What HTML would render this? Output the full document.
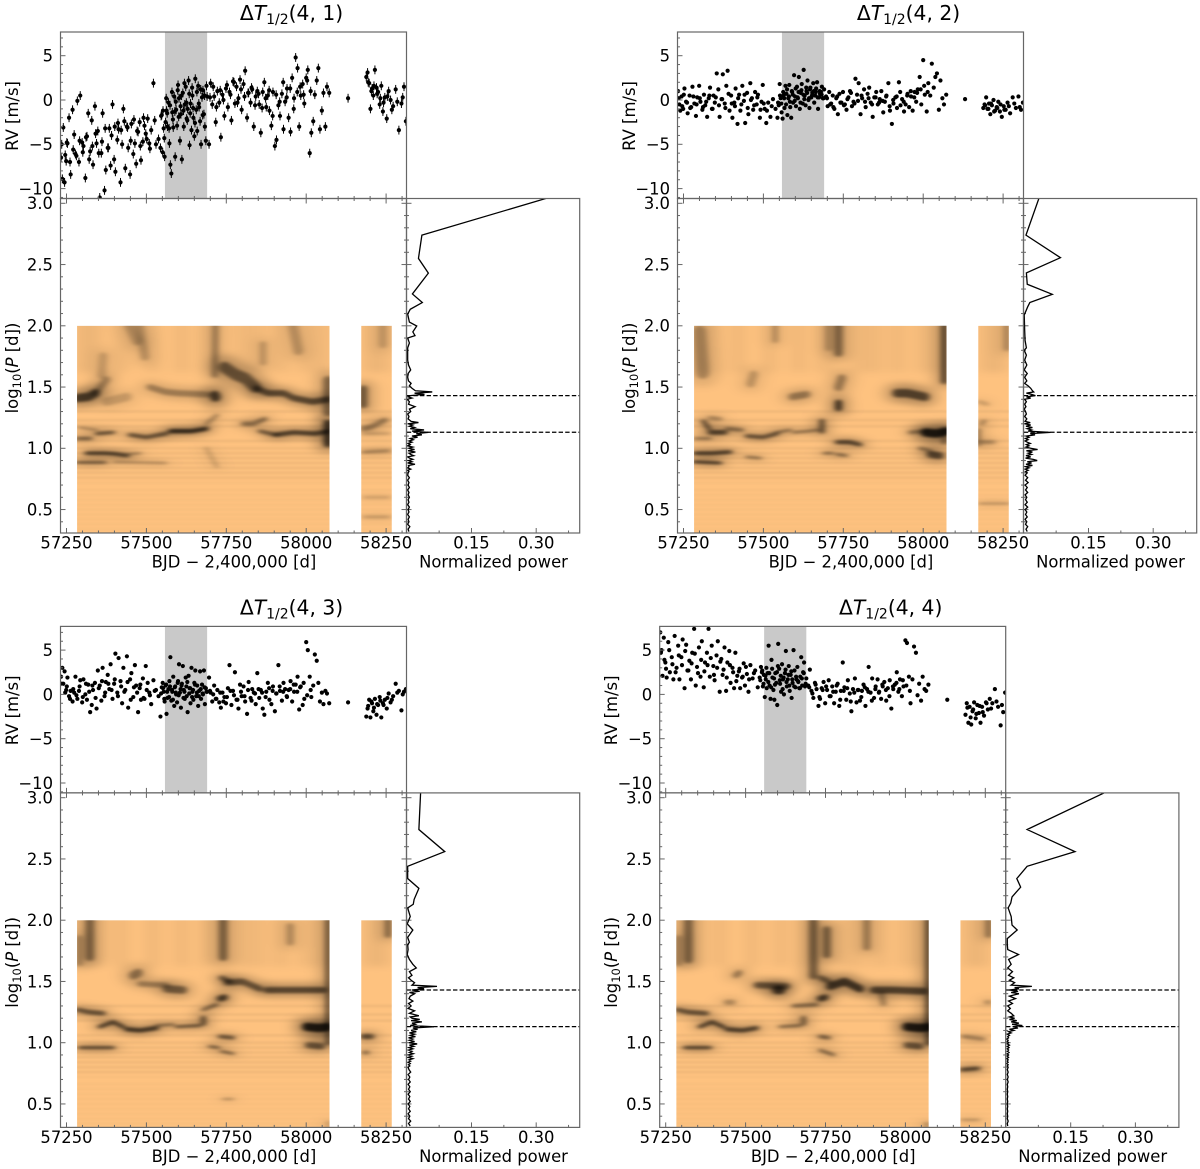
<!DOCTYPE html>
<html lang="en">
<head>
<meta charset="utf-8">
<title>Delta T 1/2 periodogram panels</title>
<style>
html,body{margin:0;padding:0;background:#fff;}
svg{display:block;font-family:"DejaVu Sans","Liberation Sans",sans-serif;fill:#000;}
text{fill:#000;}
.lab{font-size:16.4px;}
.tit{font-size:20.3px;}
</style>
</head>
<body>
<svg id="figure" xmlns="http://www.w3.org/2000/svg" width="1200" height="1169" viewBox="0 0 1200 1169">
<defs>
<filter id="heat-blur" x="-5%" y="-5%" width="110%" height="110%"><feGaussianBlur stdDeviation="3 1.3"/></filter>
<filter id="halo-blur" x="-5%" y="-5%" width="110%" height="110%"><feGaussianBlur stdDeviation="8 3.5"/></filter>
<filter id="band-blur" x="-5%" y="-5%" width="110%" height="110%"><feGaussianBlur stdDeviation="3 1"/></filter>
</defs>
<rect x="0" y="0" width="1200" height="1169" fill="#fff"/>

<g id="panel-41" transform="translate(0,0)">
<g class="marks"></g>
<text class="tit" x="291.5" y="20" text-anchor="middle">Δ<tspan font-style="italic">T</tspan><tspan font-size="14" dy="4">1/2</tspan><tspan dy="-4">(4, 1)</tspan></text>
<text class="lab" transform="translate(18,116) rotate(-90)" text-anchor="middle">RV [m/s]</text>
<text class="lab" transform="translate(18,368) rotate(-90)" text-anchor="middle">log<tspan font-size="11.5" dy="3">10</tspan><tspan dy="-3">(</tspan><tspan font-style="italic">P</tspan> [d])</text>
<text class="lab" x="234" y="567.5" text-anchor="middle">BJD − 2,400,000 [d]</text>
<text class="lab" x="493.5" y="567.5" text-anchor="middle">Normalized power</text>
</g>

<g id="panel-42" transform="translate(617,0)">
<g class="marks"></g>
<text class="tit" x="291.5" y="20" text-anchor="middle">Δ<tspan font-style="italic">T</tspan><tspan font-size="14" dy="4">1/2</tspan><tspan dy="-4">(4, 2)</tspan></text>
<text class="lab" transform="translate(18,116) rotate(-90)" text-anchor="middle">RV [m/s]</text>
<text class="lab" transform="translate(18,368) rotate(-90)" text-anchor="middle">log<tspan font-size="11.5" dy="3">10</tspan><tspan dy="-3">(</tspan><tspan font-style="italic">P</tspan> [d])</text>
<text class="lab" x="234" y="567.5" text-anchor="middle">BJD − 2,400,000 [d]</text>
<text class="lab" x="493.5" y="567.5" text-anchor="middle">Normalized power</text>
</g>

<g id="panel-43" transform="translate(0,594.4)">
<g class="marks"></g>
<text class="tit" x="291.5" y="20" text-anchor="middle">Δ<tspan font-style="italic">T</tspan><tspan font-size="14" dy="4">1/2</tspan><tspan dy="-4">(4, 3)</tspan></text>
<text class="lab" transform="translate(18,116) rotate(-90)" text-anchor="middle">RV [m/s]</text>
<text class="lab" transform="translate(18,368) rotate(-90)" text-anchor="middle">log<tspan font-size="11.5" dy="3">10</tspan><tspan dy="-3">(</tspan><tspan font-style="italic">P</tspan> [d])</text>
<text class="lab" x="234" y="567.5" text-anchor="middle">BJD − 2,400,000 [d]</text>
<text class="lab" x="493.5" y="567.5" text-anchor="middle">Normalized power</text>
</g>

<g id="panel-44" transform="translate(599.2,594.4)">
<g class="marks"></g>
<text class="tit" x="291.5" y="20" text-anchor="middle">Δ<tspan font-style="italic">T</tspan><tspan font-size="14" dy="4">1/2</tspan><tspan dy="-4">(4, 4)</tspan></text>
<text class="lab" transform="translate(18,116) rotate(-90)" text-anchor="middle">RV [m/s]</text>
<text class="lab" transform="translate(18,368) rotate(-90)" text-anchor="middle">log<tspan font-size="11.5" dy="3">10</tspan><tspan dy="-3">(</tspan><tspan font-style="italic">P</tspan> [d])</text>
<text class="lab" x="234" y="567.5" text-anchor="middle">BJD − 2,400,000 [d]</text>
<text class="lab" x="493.5" y="567.5" text-anchor="middle">Normalized power</text>
</g>
</svg>

<script>
// ---- axis tick values and labels ----
const timeTicks = [57250, 57500, 57750, 58000, 58250];
const rvTicks = [5, 0, -5, -10];
const rvTickLabels = ["5", "0", "−5", "−10"];
const periodTicks = [3.0, 2.5, 2.0, 1.5, 1.0, 0.5];
const periodTickLabels = ["3.0", "2.5", "2.0", "1.5", "1.0", "0.5"];
const powerTicks = [0.15, 0.30];
const powerTickLabels = ["0.15", "0.30"];
const activityWindow = [57558, 57690];
const heatBlocks = [[57283, 58073], [58172, 58268]];
const markedPeriods = [1.43, 1.131];

// ---- observation times (BJD - 2,400,000) ----
const rvTimes = [
57233,57237,57240,57244,57249,57253,57258,57263,57269,57274,
57278,57284,57289,57293,57299,57303,57309,57314,57318,57324,
57329,57333,57339,57344,57348,57354,57359,57363,57369,57373,
57379,57384,57388,57394,57399,57403,57409,57413,57419,57424,
57428,57434,57439,57443,57449,57453,57459,57464,57468,57474,
57479,57483,57489,57494,57498,57504,57509,57515,57522,57530,
57538,57544,57548,57551,57554,57557,57560,57563,57566,57569,
57572,57575,57578,57581,57584,57587,57590,57593,57596,57599,
57602,57605,57608,57611,57614,57617,57620,57623,57626,57629,
57632,57635,57638,57641,57644,57647,57650,57653,57656,57659,
57662,57665,57668,57671,57674,57677,57680,57683,57686,57690,
57696,57701,57706,57712,57717,57722,57728,57733,57738,57744,
57749,57755,57760,57766,57771,57777,57782,57788,57793,57798,
57804,57809,57815,57820,57826,57831,57836,57842,57847,57853,
57858,57864,57869,57875,57880,57885,57891,57896,57902,57907,
57913,57918,57924,57929,57934,57940,57945,57951,57956,57962,
57967,57973,57978,57983,57989,57994,58000,58005,58011,58016,
58022,58027,58033,58038,58043,58049,58054,58060,58065,58072,
58131,58188,58192,58197,58201,58206,58210,58215,58220,58225,
58230,58235,58240,58246,58252,58258,58264,58272,58280,58290,
58298,58306,58312,
57235,57246,57251,57261,57271,57281,57291,57301,57311,57321,
57331,57341,57351,57361,57371,57381,57391,57401,57411,57421,
57431,57441,57451,57461,57471,57481,57491,57501,57511,57526,
57546,57552,57556,57562,57565,57571,57574,57580,57583,57589,
57592,57598,57601,57607,57610,57616,57619,57625,57628,57634,
57637,57643,57646,57652,57658,
57664,57670,57676,57682,57688,57699,57709,57719,57731,57741,
57752,57763,57774,57785,57796,57807,57818,57829,57840,57851,
57862,57873,57884,57895,57906,57917,57928,57939,57950,57961,
57972,57981,57992,58003,58014,
58194,58204,58212,58222,58232,58242,58254,58268,58285,58302];

// ---- radial velocities, m/s ----
const rv41 = [
-6.5,-8.9,-3.1,-9.3,-6.9,-4.9,-2.0,-8.4,-1.1,-3.9,
-6.1,-0.1,-7.0,0.5,-4.8,-5.2,-8.8,-4.1,-1.5,-5.8,
-2.3,-7.3,-0.7,-4.9,-3.5,-11.0,-6.0,-1.5,-10.2,-7.9,
-5.4,-3.2,-7.4,-0.5,-6.7,-8.1,-4.5,-3.3,-9.3,-5.0,
-1.0,-7.7,-3.0,-5.4,-8.4,-2.7,-6.1,-4.9,-7.2,-3.6,
-2.5,-6.8,-4.7,-2.9,-3.8,-2.1,-4.9,-3.4,1.9,-5.0,
-4.4,-5.4,-1.7,-5.9,-3.2,-6.4,-2.5,-1.2,-3.0,-0.3,
-4.9,-7.3,-8.3,-1.4,-3.1,0.4,-6.4,-1.1,-2.9,1.7,
0.2,-4.6,-1.6,-6.7,0.8,-3.0,-0.5,1.5,-2.1,-1.0,
2.2,-5.1,-0.4,-3.4,0.5,-2.0,-4.1,2.4,-1.1,-3.5,
1.6,-0.8,-2.4,-5.0,0.3,1.1,-1.6,-3.0,-4.6,0.4,
-5.0,1.9,-0.5,0.4,-2.5,1.0,-0.3,-4.2,0.6,-1.8,
1.3,-0.8,0.9,-2.3,2.1,-0.4,1.5,0.2,2.3,-1.1,
1.8,3.3,-2.0,0.8,-0.3,1.2,-3.0,0.4,1.0,-0.5,
-3.7,0.9,2.0,-0.8,0.5,-1.2,-2.9,0.9,-5.2,-4.5,
-0.6,-1.8,0.7,-3.3,-0.2,1.3,-2.0,-3.6,2.5,0.2,
4.8,3.6,-3.0,0.5,1.8,-0.4,2.5,3.4,-6.0,-3.7,
-2.4,0.6,2.2,3.6,-3.3,-1.2,0.8,-3.0,1.5,0.8,
0.2,2.6,3.1,1.9,-1.0,1.3,0.5,3.4,1.4,0.9,
-0.5,1.6,-1.3,0.3,-2.1,1.0,0.0,-0.7,1.2,-3.4,
-0.4,1.5,-2.4,
-5.0,-6.2,-4.8,-7.0,-5.6,-6.3,-4.6,-5.9,-4.2,-6.7,
-5.2,-3.8,-6.0,-4.7,-3.2,-5.4,-4.0,-3.0,-2.6,-3.4,
-2.4,-3.1,-4.6,-2.2,-3.5,-5.2,-2.0,-4.4,-5.5,-2.3,
-1.8,-1.2,-4.3,0.2,-1.5,-3.2,-0.6,0.9,-2.2,-1.3,
-0.2,1.1,-1.9,-0.7,0.5,-1.2,1.9,-0.3,-2.3,0.7,
-1.5,1.4,-0.9,-2.6,0.9,
-0.4,1.2,-1.7,0.5,1.6,0.3,1.5,-0.8,1.1,0.0,
1.7,0.6,2.0,-0.3,1.2,0.4,0.8,1.4,-0.6,0.7,
-0.9,0.2,1.1,-1.8,0.6,-0.2,2.0,0.3,1.3,-1.0,
0.9,1.5,0.6,2.2,1.0,
2.0,1.0,1.6,0.7,0.2,-0.3,0.4,-1.1,-0.2,0.3];
const rv42 = [
1.0,-0.5,-1.2,0.4,-1.0,1.3,-0.2,-1.5,0.5,-0.8,
1.5,-0.4,-1.8,0.3,1.6,-0.2,-1.1,0.6,-0.6,-1.9,
0.2,1.4,-1.0,0.5,-0.3,3.0,1.2,-1.9,0.1,2.9,
-0.4,1.6,3.3,-1.2,0.5,-2.0,-0.3,1.3,-2.7,0.6,
-1.2,1.6,-0.1,-2.6,0.8,-1.6,1.9,0.2,-1.1,0.9,
-0.5,0.6,-2.0,-0.2,1.7,-1.0,-2.6,-0.3,-1.9,0.1,
-1.0,-2.0,-0.6,1.8,0.2,-1.4,-2.1,0.5,-0.9,1.6,
0.7,-1.7,0.2,1.7,-0.8,-2.0,0.9,-0.3,2.8,0.4,
-0.7,1.5,0.2,2.6,-1.0,0.8,1.8,-0.4,3.4,0.5,
-0.6,1.0,2.2,0.0,-0.9,1.4,0.3,0.8,1.9,-0.3,
0.5,1.3,2.0,-1.0,0.3,0.7,0.9,1.5,0.2,1.2,
0.4,-0.7,0.9,-0.4,0.5,-1.0,0.2,-1.6,0.7,-0.3,
0.9,-0.5,-1.1,0.3,1.0,-0.7,-0.2,2.4,0.6,1.9,
-1.6,0.2,1.2,-0.8,0.7,1.4,-0.3,-1.9,0.3,0.9,
-0.5,0.1,1.0,-1.4,-0.2,0.5,1.9,-1.2,-2.7,-0.4,
0.3,-0.9,2.0,-0.6,0.1,-1.3,-0.5,0.7,-0.8,0.4,
-1.2,0.9,-0.2,1.2,2.6,-0.5,4.5,0.6,-1.3,1.9,
0.5,4.1,1.4,2.6,3.0,-1.1,2.2,0.2,-0.5,0.6,
0.1,-0.9,-0.5,0.3,-1.0,-0.4,-1.6,-0.6,0.0,-1.2,
-0.8,-0.2,-1.3,-1.9,-0.7,-1.1,-0.3,-1.5,0.3,-0.9,
0.4,-1.1,-0.3,
0.2,-0.7,0.6,-0.3,-0.9,0.4,-0.5,0.2,-0.8,-0.2,
0.5,-1.0,0.3,-0.6,0.1,-0.9,0.7,-0.4,-0.7,0.2,
-0.5,0.6,-0.9,0.0,-0.6,0.3,-1.1,-0.4,-1.2,-0.7,
-0.3,0.5,-0.4,0.9,0.2,-0.5,1.2,0.4,-0.2,1.0,
0.6,-0.1,1.3,0.3,0.9,-0.3,1.1,0.6,0.1,1.4,
0.8,0.2,1.2,0.5,1.0,
0.9,0.3,1.0,0.6,0.2,0.2,-0.5,-0.8,0.4,-0.3,
-0.6,0.1,0.8,-0.4,-0.1,0.5,-0.2,0.2,-0.5,0.3,
-0.3,-0.1,0.4,-0.7,0.0,0.4,0.9,-0.2,0.5,1.0,
0.3,0.8,1.2,1.6,0.9,
-0.6,-1.0,-0.4,-1.3,-0.9,-0.5,-1.1,-0.7,-0.4,-0.8];
const rv43 = [
2.0,3.0,1.2,2.6,0.5,1.9,-0.2,0.4,-0.8,0.2,
2.0,-0.5,0.4,1.6,-0.9,1.7,0.0,-0.6,1.1,-2.0,
-1.2,0.5,1.3,-1.6,2.7,1.0,-0.7,3.0,-0.2,1.4,
2.2,0.6,3.4,-0.5,1.2,4.6,0.2,4.1,1.5,-1.0,
3.0,0.5,4.3,-1.5,1.7,2.4,-0.3,3.3,1.0,-2.0,
0.7,-0.6,1.8,-0.5,3.2,1.3,0.2,-1.1,1.6,0.5,
-0.2,-2.5,0.8,1.3,0.3,-0.8,1.0,-2.2,-0.4,0.6,
1.5,4.2,-0.7,0.3,2.0,-1.3,0.9,0.0,-0.9,1.5,
3.4,0.2,-1.5,1.2,3.2,0.5,-0.5,1.9,-0.2,-2.0,
2.1,0.7,-1.0,3.0,0.3,-0.6,1.3,2.7,-0.2,1.0,
-1.3,0.4,2.6,-0.5,1.1,0.0,2.7,-1.1,0.7,0.3,
1.9,0.2,-0.8,1.0,-0.5,0.5,-0.9,-1.5,0.2,-0.3,
-1.0,0.7,3.3,-1.2,0.4,2.5,-0.6,-1.6,1.1,-0.2,
0.9,-0.8,-2.2,1.4,-0.4,0.6,0.2,-1.1,2.4,-0.4,
0.5,-1.6,-2.3,0.3,1.3,-0.6,-1.1,0.9,-1.9,0.1,
3.3,0.4,-0.7,1.3,0.6,-0.3,0.5,1.5,-0.8,0.3,
1.1,2.0,-1.7,0.9,-1.2,-0.5,5.9,5.0,2.0,-0.3,
1.0,4.5,3.8,1.3,-0.8,0.2,-1.1,0.4,0.1,-1.0,
-0.9,-2.5,-1.6,-0.6,-2.6,-1.0,-1.9,-0.5,-2.3,-1.2,
-0.3,-2.6,-1.0,-0.6,-1.6,0.1,-0.9,-0.2,1.2,0.4,
-1.8,0.3,0.6,
1.2,0.2,0.9,-0.5,0.6,-0.1,0.9,-0.3,1.2,0.3,
1.0,-0.4,0.7,1.5,0.2,1.2,0.5,1.7,-0.2,0.9,
0.3,1.4,-0.6,0.8,0.2,1.1,-0.4,0.5,-0.1,0.4,
0.1,0.7,-0.5,1.1,0.3,-0.3,0.9,0.5,-0.6,0.8,
0.2,1.3,-0.1,0.6,1.0,-0.4,0.3,0.9,1.4,0.1,
0.7,-0.3,0.5,1.1,0.2,
-0.2,0.6,0.1,0.8,0.3,0.4,0.0,-0.5,0.2,-0.8,
-0.3,0.4,-0.1,-0.6,0.3,-0.2,0.5,-0.7,0.1,0.6,
0.2,-0.3,0.7,0.4,0.1,0.9,0.3,-0.2,0.6,1.1,
0.3,0.8,1.3,-0.1,0.5,
-1.3,-0.8,-1.5,-1.1,-0.7,-1.2,-0.4,-0.6,0.2,0.0];
const rv44 = [
7.0,5.0,2.1,6.4,3.6,1.9,5.9,2.5,4.2,1.7,
6.6,3.0,5.5,1.7,4.2,6.2,0.7,5.6,2.7,3.8,
1.7,4.7,7.4,1.0,3.1,5.3,2.0,6.0,0.8,3.6,
4.7,7.4,2.0,5.5,3.2,1.6,4.4,6.0,0.3,4.0,
2.2,5.3,0.4,3.6,4.9,1.3,3.0,0.7,4.7,2.1,
2.6,0.7,1.9,3.5,1.0,2.3,0.3,3.3,1.8,2.7,
0.8,1.9,3.1,2.5,0.9,2.2,-0.3,1.7,0.7,2.4,
5.5,1.0,-0.5,3.9,1.9,0.5,-0.6,2.4,1.3,-1.2,
5.7,2.9,1.2,0.3,3.4,1.7,0.0,2.4,4.9,0.9,
1.7,3.2,0.4,2.2,-0.4,1.3,5.0,2.7,0.8,1.7,
3.1,1.4,0.7,2.0,4.2,1.0,2.5,3.6,0.9,1.8,
1.0,2.8,0.4,-0.4,1.3,0.6,-1.3,-0.5,0.7,1.4,
-1.0,0.5,1.6,-0.2,0.9,-1.0,0.3,1.2,-1.3,0.4,
3.6,0.8,-0.6,1.6,0.1,-1.9,0.6,1.8,-0.9,0.5,
-0.7,0.4,1.1,-1.3,0.6,3.1,0.2,1.8,-0.4,0.9,
1.7,0.3,-0.5,0.9,1.4,-0.7,0.7,1.6,-1.6,0.6,
1.1,2.5,0.3,1.7,-0.2,0.9,6.1,5.8,2.0,-1.0,
1.7,5.4,4.7,-0.1,1.2,-0.7,2.0,0.6,0.4,1.1,
-0.6,-2.3,-1.0,-3.2,-1.4,-3.4,-1.9,-0.9,-2.7,-1.2,
-2.1,-3.2,-1.4,-2.4,-0.9,-1.7,-0.5,-1.0,0.6,-1.4,
-3.5,-2.0,0.2,
4.7,3.9,2.9,5.0,3.4,2.5,4.4,3.3,4.9,2.7,
3.5,4.6,2.4,3.9,2.6,3.3,4.1,2.2,3.0,3.7,
2.8,1.9,3.3,2.5,1.5,2.9,2.0,3.1,1.7,2.4,
1.6,2.7,1.2,2.1,3.0,1.4,2.4,0.8,2.9,1.8,
1.1,2.5,3.2,1.6,2.1,0.6,1.9,2.8,1.4,2.2,
1.0,2.6,1.7,0.9,2.0,
1.5,0.7,1.8,2.4,1.2,0.8,0.1,1.1,-0.3,0.5,
0.9,-0.2,0.3,1.0,-0.6,0.4,0.7,-0.8,0.2,0.5,
-0.3,0.8,0.3,-0.7,0.6,0.2,1.1,0.5,-0.2,0.9,
1.3,0.6,1.6,1.0,0.4,
-1.5,-2.6,-1.7,-2.2,-1.3,-2.0,-1.0,-1.6,-0.8,-1.2];
const rvErrors41 = [0.5];

// ---- periodograms: long-period part differs by panel, short-period part on a common grid ----
const powerGridLogP = [
1.80,1.76,1.72,1.68,1.64,1.61,1.58,1.55,1.53,1.51,
1.49,1.47,1.46,1.45,1.44,1.43,1.42,1.41,1.40,1.38,
1.36,1.34,1.32,1.30,1.28,1.26,1.24,1.22,1.21,1.20,
1.19,1.18,1.17,1.16,1.15,1.14,1.13,1.12,1.11,1.10,
1.09,1.08,1.07,1.06,1.05,1.04,1.03,1.02,1.01,1.00,
.99,.98,.97,.96,.95,.94,.93,.92,.91,.90,
.89,.88,.87,.86,.85,.84,.83,.82,.81,.80,
.78,.76,.74,.72,.70,.68,.66,.64,.62,.60,
.58,.56,.54,.52,.50,.48,.46,.44,.42,.40,
.38,.36,.34,.32];
const powerLong41P = [3.04,2.74,2.55,2.43,2.26,2.19,2.135,2.096,2.03,1.998,1.95,1.92,1.90,1.86,1.82];
const powerLong41V = [.323,.035,.027,.05,.013,.036,.008,.002,.006,.023,.014,.019,.002,.006,.002];
const power41 = [
.002,.002,.002,.004,.009,.003,.002,.004,.010,.006,
.012,.020,.059,.018,.041,.008,.003,.012,.001,.006,
.004,.019,.006,.009,.002,.005,.003,.010,.027,.003,
.014,.006,.018,.008,.040,.012,.050,.022,.035,.012,
.025,.008,.015,.005,.012,.003,.008,.002,.014,.004,
.018,.003,.020,.005,.009,.016,.002,.006,.014,.004,
.012,.002,.019,.004,.005,.002,.009,.002,.005,.003,
.002,.006,.002,.005,.003,.006,.002,.005,.003,.006,
.003,.005,.002,.006,.003,.005,.002,.006,.003,.005,
.002,.007,.003,.005];
const powerLong42P = [3.04,2.74,2.556,2.432,2.339,2.257,2.19,2.155,2.088,1.966,1.88,1.82];
const powerLong42V = [.035,.005,.085,.006,.008,.066,.014,.009,.001,.002,.003,.006];
const power42 = [
.001,.006,.002,.007,.001,.008,.002,.007,.002,.010,
.016,.020,.023,.006,.018,.027,.006,.016,.002,.006,
.002,.005,.001,.004,.006,.002,.007,.003,.015,.002,
.016,.005,.020,.008,.018,.010,.062,.015,.026,.006,
.012,.004,.010,.003,.008,.015,.006,.012,.005,.016,
.032,.006,.020,.010,.018,.005,.016,.004,.022,.031,
.008,.018,.005,.020,.004,.012,.003,.010,.004,.008,
.003,.009,.004,.010,.003,.008,.004,.009,.003,.007,
.004,.008,.003,.009,.003,.007,.004,.008,.003,.007,
.004,.009,.005,.008];
const powerLong43P = [3.04,2.74,2.56,2.44,2.34,2.26,2.17,2.13,2.10,2.03,1.97,1.92,1.86,1.82];
const powerLong43V = [.032,.028,.088,.002,.002,.028,.017,.015,.002,.008,.001,.014,.002,.006];
const power43 = [
.002,.003,.001,.006,.014,.022,.006,.012,.004,.010,
.018,.012,.070,.025,.040,.012,.030,.006,.018,.008,
.005,.014,.004,.010,.003,.018,.006,.028,.008,.012,
.030,.010,.035,.012,.020,.008,.063,.014,.025,.010,
.022,.006,.018,.008,.020,.004,.014,.006,.018,.005,
.024,.006,.016,.005,.014,.004,.012,.006,.015,.004,
.012,.003,.014,.005,.009,.003,.008,.004,.007,.003,
.005,.009,.003,.007,.004,.008,.003,.007,.004,.008,
.003,.007,.004,.008,.003,.007,.004,.008,.003,.007,
.004,.009,.004,.008];
const powerLong44P = [3.04,2.74,2.56,2.44,2.34,2.27,2.19,2.14,2.10,2.03,1.96,1.92,1.85,1.82];
const powerLong44V = [.228,.049,.16,.049,.025,.034,.014,.011,.005,.012,.014,.026,.003,.003];
const power44 = [
.003,.004,.029,.006,.012,.004,.015,.006,.018,.008,
.020,.012,.060,.020,.030,.008,.028,.012,.030,.008,
.022,.006,.015,.004,.010,.004,.012,.018,.008,.020,
.008,.025,.012,.030,.014,.038,.016,.028,.008,.018,
.006,.012,.003,.008,.004,.006,.002,.005,.003,.006,
.003,.008,.003,.007,.003,.006,.003,.007,.003,.006,
.003,.006,.002,.005,.003,.005,.002,.005,.003,.005,
.003,.005,.003,.005,.003,.005,.003,.004,.003,.004,
.003,.004,.003,.004,.003,.004,.003,.004,.003,.004,
.003,.005,.003,.004];

// ---- stacked-periodogram ridges: [darkness 0-1, logP thickness, t, logP, t, logP, ...] ----
const faintBandLogP = [.72,.66,.62,.58,.54,.5,.46,.42,.38,.34];
const latticeBandLogP = [1.3,1.23,1.18,1.06,1.0,.96,.92,.88,.84,.8,.76];
const streakTimes = [57300,57340,57420,57520,57610,57690,57800,57850,57920,58000,58050,58200,58240];
const ridges41 = [
[.75,.05,57283,1.41,57320,1.42,57340,1.45],[.35,.04,57340,1.45,57375,1.56],[.2,.05,57375,1.38,57440,1.42],
[.35,.035,57510,1.5,57560,1.46,57600,1.45,57690,1.44],[.8,.06,57714,1.43,57716,1.42],
[.6,.07,57745,1.66,57780,1.6,57810,1.57,57840,1.5],[.65,.035,57845,1.49,57880,1.45,57930,1.45,57960,1.41,58020,1.38,58069,1.4],
[.5,.06,58069,1.3,58069,1.55],[.6,.05,58178,1.36,58178,1.48],[.5,.02,57283,1.08,57325,1.08],[.3,.012,57290,1.17,57345,1.15],
[.6,.018,57345,1.12,57396,1.13],[.6,.022,57448,1.11,57500,1.09,57563,1.12],[.85,.024,57575,1.14,57640,1.14,57688,1.16],
[.35,.02,57688,1.2,57720,1.27],[.55,.02,57855,1.14,57905,1.11],[.7,.024,57905,1.11,57960,1.13,58030,1.12,58070,1.14],
[.85,.05,58068,1.04,58068,1.2],[.45,.025,57803,1.2,57835,1.2,57871,1.24],[.7,.02,57313,.96,57370,.96,57400,.955,57440,.94],
[.3,.012,57440,.95,57480,.96],[.5,.016,57283,.885,57370,.885],[.25,.012,57400,.89,57560,.88],[.25,.015,57688,1.0,57720,.85],
[.4,.03,58178,1.16,58200,1.17,58246,1.23],[.35,.015,58178,.97,58260,.98],[.2,.012,58180,1.12,58260,1.12],
[.25,.01,58180,.44,58260,.44],[.2,.01,58180,.6,58260,.6],[.25,.05,57479,2,57495,1.75],[.4,.035,57716,2,57714,1.6],
[.25,.06,57959,2,57975,1.8],[.25,.035,57865,1.85,57865,1.7],[.25,.06,57448,2,57470,1.88],[.2,.05,58240,2,58240,1.85],[.2,.05,57365,1.75,57360,1.6]];
const ridges42 = [
[.7,.025,57333,1.13,57380,1.13],[.45,.02,57386,1.16,57433,1.15],[.6,.022,57448,1.1,57500,1.09,57542,1.12],[.4,.015,57542,1.13,57584,1.15],
[.4,.015,57594,1.13,57640,1.14,57670,1.15],[.7,.03,57683,1.14,57683,1.22],[.75,.02,57313,1.22,57330,1.16],[.3,.02,57333,1.25,57365,1.24],
[.4,.015,57286,1.08,57333,1.08],[.7,.022,57286,.96,57340,.96,57396,.97],[.7,.016,57283,.89,57365,.88],[.4,.014,57448,.93,57490,.92],
[.85,.04,57735,1.33,57735,1.37],[.4,.05,57735,1.5,57745,1.57],[.7,.022,57730,1.05,57770,1.05,57803,1.03],[.5,.014,57730,.95,57760,.94],
[.45,.014,57690,.96,57715,.96],[.4,.04,57589,1.42,57636,1.44],[.7,.05,57917,1.45,57950,1.45,58006,1.42],[1,.05,58006,1.13,58040,1.12,58074,1.14],
[.4,.02,57959,1.13,58006,1.14],[.7,.04,58022,.95,58053,.94],[.4,.02,57990,1,58022,.98],[.7,.04,58066,2,58066,1.55],[.5,.03,58066,1.15,58066,1.05],
[.3,.08,57300,1.95,57310,1.62],[.5,.05,57735,2,57735,1.78],[.3,.03,57537,2,57537,1.88],[.25,.04,57704,2,57704,1.82],[.25,.05,57469,1.6,57460,1.53],
[.4,.02,58183,1.2,58190,1.22],[.5,.02,58173,1.15,58173,1.03],[.3,.02,58183,1.05,58220,1.05],[.3,.007,58175,.55,58268,.55],[.3,.04,58262,2,58262,1.82],[.2,.02,58175,1.38,58200,1.36]];
const ridges43 = [
[.6,.025,57283,1.27,57320,1.25,57365,1.24],[.7,.022,57354,1.13,57396,1.17,57427,1.13],[.75,.024,57438,1.11,57480,1.10,57532,1.12],
[.4,.016,57532,1.14,57584,1.15],[.55,.016,57594,1.13,57667,1.14],[.7,.03,57678,1.16,57678,1.2],[.5,.02,57678,1.27,57719,1.31],
[.8,.035,57730,1.36,57745,1.37],[.6,.028,57735,1.53,57760,1.5],[.6,.035,57751,1.49,57800,1.5,57855,1.44],[.65,.035,57876,1.43,57950,1.43,58053,1.43],
[.45,.05,57459,1.55,57475,1.57],[.55,.045,57563,1.44,57615,1.43],[.35,.03,57480,1.48,57563,1.47],
[.6,.02,57730,1.05,57771,1.04],[.5,.016,57698,.97,57725,.96],[.5,.014,57735,.93,57771,.91],[.6,.018,57292,.96,57396,.96],
[1,.05,58001,1.13,58040,1.12,58069,1.13],[.6,.035,58006,.98,58048,.97],[.6,.035,58069,2,58069,1.0],[.5,.05,57323,2,57323,1.7],[.3,.04,57290,1.85,57290,1.65],
[.55,.05,57740,2,57740,1.7],[.3,.04,57950,1.95,57950,1.82],[.65,.03,58178,1.05,58204,1.05],[.45,.025,58183,.92,58190,.92],[.5,.035,58256,2,58256,1.88],
[.3,.008,57740,.54,57771,.54],[.25,.02,58069,.35,58069,.31]];
const ridges44 = [
[.6,.025,57284,1.27,57320,1.25,57378,1.24],[.7,.022,57357,1.13,57395,1.17,57430,1.13],[.7,.024,57441,1.11,57490,1.10,57535,1.12],
[.45,.016,57608,1.13,57670,1.14],[.6,.03,57681,1.16,57681,1.2],[.45,.02,57650,1.3,57722,1.31],[.8,.05,57597,1.43,57610,1.43],[.6,.035,57535,1.47,57629,1.46],
[.8,.035,57733,1.36,57750,1.37],[.55,.03,57735,1.53,57760,1.5],[.8,.045,57764,1.46,57810,1.5,57858,1.44],[.7,.04,57900,1.43,57960,1.43,58056,1.42],
[.4,.03,57931,1.32,57925,1.4],[.4,.035,57470,1.55,57480,1.57],[.3,.03,57440,1.33,57460,1.33],
[1,.05,58004,1.13,58046,1.12,58077,1.13],[.6,.035,58004,.98,58046,.97],[.65,.04,58072,2,58072,1.0],[.5,.05,57321,2,57321,1.68],[.3,.04,57290,1.85,57290,1.65],
[.55,.05,57712,2,57712,1.55],[.55,.045,57754,1.92,57754,1.72],[.4,.04,57879,2,57879,1.78],[.65,.018,57310,.96,57389,.96],[.5,.016,57733,.94,57775,.9],
[.55,.02,57733,1.05,57760,1.04],[.7,.02,58176,.78,58228,.79],[.35,.02,58181,1.05,58244,1.03],[.45,.035,58260,2,58260,1.88],[.3,.008,58176,.37,58230,.37],
[.3,.025,58254,1.33,58262,1.33],[.4,.02,58067,.34,58067,.31]];

// ---- axis functions (panel-local pixels) ----
const xOfTime = t => 66.5 + (t - 57250) * 0.3196;
const yOfLogP = p => 448.3 - (p - 1) * 122.5;
const yOfRv = v => 100 - v * 8.86;
const xOfPower = w => 406.8 + w * 431.3;
const L = 60.5, R = 406.5, PR = 579.7, RT = 32, S = 198.5, B = 533;
const NS = 'http://www.w3.org/2000/svg';
const SPINE = '#666666';

function mk(tag, attrs, parent) {
  const el = document.createElementNS(NS, tag);
  for (const k in attrs) el.setAttribute(k, attrs[k]);
  parent.appendChild(el);
  return el;
}
function tick(parent, x1, y1, x2, y2) {
  const el = mk('line', {x1: x1, y1: y1, x2: x2, y2: y2, stroke: SPINE, 'stroke-width': 1}, parent);
  
  
  return el;
}
function tickLabel(parent, x, y, anchor, str) {
  const el = mk('text', {x: x, y: y, 'text-anchor': anchor, 'font-size': 16.4}, parent);
  el.textContent = str;
  
  
  return el;
}
function rangeSteps(from, to, step) {
  const out = [];
  for (let i = 0; from + i * step <= to + 1e-9; i++) out.push(from + i * step);
  return out;
}

function drawPanel(id, rvValues, rvErrors, ridges, longP, longV, power) {
  const root = document.querySelector('#' + id + ' .marks');

  // RV axes
  const rvG = mk('g', {}, root);
  
  
  const rvClip = mk('clipPath', {id: id + '-rv-clip'}, rvG);
  mk('rect', {x: L, y: RT, width: R - L, height: S - RT}, rvClip);
  const band = mk('rect', {x: xOfTime(activityWindow[0]), y: RT, width: xOfTime(activityWindow[1]) - xOfTime(activityWindow[0]), height: S - RT, fill: '#c9c9c9'}, rvG);
  
  
  const pts = mk('g', {'clip-path': 'url(#' + id + '-rv-clip)'}, rvG);
  
  
  const n = Math.min(rvTimes.length, rvValues.length);
  for (let i = 0; i < n; i++) {
    const cx = xOfTime(rvTimes[i]), cy = yOfRv(rvValues[i]);
    if (rvErrors.length) {
      const bar = mk('line', {x1: cx, x2: cx, y1: yOfRv(rvValues[i] - rvErrors[0]), y2: yOfRv(rvValues[i] + rvErrors[0]), stroke: '#000', 'stroke-width': 1}, pts);
      
      
    }
    const dot = mk('circle', {cx: cx, cy: cy, r: 2.1, fill: '#000'}, pts);
    
    
  }
  const rvFrame = mk('rect', {x: L, y: RT, width: R - L, height: S - RT, fill: 'none', stroke: SPINE, 'stroke-width': 1.2}, rvG);
  
  
  rangeSteps(-11, 7, 1).forEach(v => tick(rvG, L, yOfRv(v), L + (rvTicks.includes(v) ? 5 : 2.5), yOfRv(v)));
  rvTicks.forEach((v, i) => tickLabel(rvG, 53, yOfRv(v) + 5.9, 'end', rvTickLabels[i]));

  // heatmap axes
  const mainG = mk('g', {}, root);
  
  
  heatBlocks.forEach((blk, bi) => {
    const x0 = xOfTime(blk[0]), x1 = xOfTime(blk[1]), y0 = yOfLogP(2), y1 = B;
    const clip = mk('clipPath', {id: id + '-heat-clip-' + bi}, mainG);
    mk('rect', {x: x0, y: y0, width: x1 - x0, height: y1 - y0}, clip);
    const block = mk('g', {'clip-path': 'url(#' + id + '-heat-clip-' + bi + ')'}, mainG);
    
    
    const base = mk('rect', {x: x0, y: y0, width: x1 - x0, height: y1 - y0, fill: '#fec27f'}, block);
    
    

    const bandG = mk('g', {filter: 'url(#band-blur)'}, block);
    faintBandLogP.forEach(p => {
      const fb = mk('line', {x1: x0 - 12, x2: x1 + 12, y1: yOfLogP(p), y2: yOfLogP(p), stroke: '#000', 'stroke-opacity': 0.05, 'stroke-width': 1}, bandG);
      
      
    });
    latticeBandLogP.forEach(p => {
      const lb = mk('line', {x1: x0 - 12, x2: x1 + 12, y1: yOfLogP(p), y2: yOfLogP(p), stroke: '#000', 'stroke-opacity': 0.07, 'stroke-width': 2}, bandG);
      
      
    });

    const haloG = mk('g', {filter: 'url(#halo-blur)'}, block);
    streakTimes.filter(t => t >= blk[0] && t <= blk[1]).forEach(t => {
      const st = mk('line', {x1: xOfTime(t), x2: xOfTime(t), y1: yOfLogP(2.05), y2: yOfLogP(1.62), stroke: '#000', 'stroke-opacity': 0.12, 'stroke-width': 7}, haloG);
      
      
    });
    ridges.forEach(r => {
      const coords = [];
      for (let j = 2; j + 1 < r.length; j += 2) coords.push(xOfTime(r[j]) + ',' + yOfLogP(r[j + 1]));
      const halo = mk('polyline', {points: coords.join(' '), fill: 'none', stroke: '#000', 'stroke-opacity': r[0] * 0.38, 'stroke-width': r[1] * 122.5 * 2.8 + 3, 'stroke-linecap': 'round', 'stroke-linejoin': 'round'}, haloG);
      
      
    });

    const blurG = mk('g', {filter: 'url(#heat-blur)'}, block);
    ridges.forEach(r => {
      const coords = [];
      for (let j = 2; j + 1 < r.length; j += 2) coords.push(xOfTime(r[j]) + ',' + yOfLogP(r[j + 1]));
      const line = mk('polyline', {points: coords.join(' '), fill: 'none', stroke: '#000', 'stroke-opacity': r[0] * 0.82, 'stroke-width': r[1] * 122.5 * 1.25 + 0.8, 'stroke-linecap': 'round', 'stroke-linejoin': 'round'}, blurG);
      
      
    });
  });
  const mainFrame = mk('rect', {x: L, y: S, width: R - L, height: B - S, fill: 'none', stroke: SPINE, 'stroke-width': 1.2}, mainG);
  
  
  rangeSteps(57250, 58300, 50).forEach(t => {
    const len = timeTicks.includes(t) ? 5 : 2.5;
    tick(mainG, xOfTime(t), B, xOfTime(t), B - len);
    tick(mainG, xOfTime(t), S, xOfTime(t), S + len);
    tick(mainG, xOfTime(t), S, xOfTime(t), S - len);
  });
  rangeSteps(0.4, 3.0, 0.1).forEach(p => {
    const major = periodTicks.some(q => Math.abs(q - p) < 1e-6);
    const len = major ? 5 : 2.5;
    tick(mainG, L, yOfLogP(p), L + len, yOfLogP(p));
    tick(mainG, R, yOfLogP(p), R - len, yOfLogP(p));
    tick(mainG, R, yOfLogP(p), R + len, yOfLogP(p));
  });
  periodTicks.forEach((p, i) => tickLabel(mainG, 53, yOfLogP(p) + 5.9, 'end', periodTickLabels[i]));
  timeTicks.forEach(t => tickLabel(mainG, xOfTime(t), 548.5, 'middle', String(t)));

  // periodogram axes
  const pgG = mk('g', {}, root);
  
  
  const pgClip = mk('clipPath', {id: id + '-pg-clip'}, pgG);
  mk('rect', {x: R, y: S, width: PR - R, height: B - S}, pgClip);
  markedPeriods.forEach(p => {
    const dash = mk('line', {x1: xOfPower(0), x2: PR, y1: yOfLogP(p), y2: yOfLogP(p), stroke: '#000', 'stroke-width': 1.3, 'stroke-dasharray': '4.4 2.2'}, pgG);
    
    
  });
  const pgPts = [];
  longP.forEach((p, i) => pgPts.push(xOfPower(longV[i]) + ',' + yOfLogP(p)));
  const gridN = Math.min(powerGridLogP.length, power.length);
  for (let i = 0; i < gridN; i++) pgPts.push(xOfPower(power[i]) + ',' + yOfLogP(powerGridLogP[i]));
  const curve = mk('polyline', {points: pgPts.join(' '), fill: 'none', stroke: '#000', 'stroke-width': 1.3, 'stroke-linejoin': 'miter', 'clip-path': 'url(#' + id + '-pg-clip)'}, pgG);
  
  
  const pgFrame = mk('rect', {x: R, y: S, width: PR - R, height: B - S, fill: 'none', stroke: SPINE, 'stroke-width': 1.2}, pgG);
  
  
  rangeSteps(0.075, 0.375, 0.075).forEach(w => {
    const major = powerTicks.some(q => Math.abs(q - w) < 1e-6);
    tick(pgG, xOfPower(w), B, xOfPower(w), B - (major ? 5 : 2.5));
  });
  powerTicks.forEach((w, i) => tickLabel(pgG, xOfPower(w), 548.5, 'middle', powerTickLabels[i]));
}

drawPanel('panel-41', rv41, rvErrors41, ridges41, powerLong41P, powerLong41V, power41);
drawPanel('panel-42', rv42, [], ridges42, powerLong42P, powerLong42V, power42);
drawPanel('panel-43', rv43, [], ridges43, powerLong43P, powerLong43V, power43);
drawPanel('panel-44', rv44, [], ridges44, powerLong44P, powerLong44V, power44);
</script>
</body>
</html>
